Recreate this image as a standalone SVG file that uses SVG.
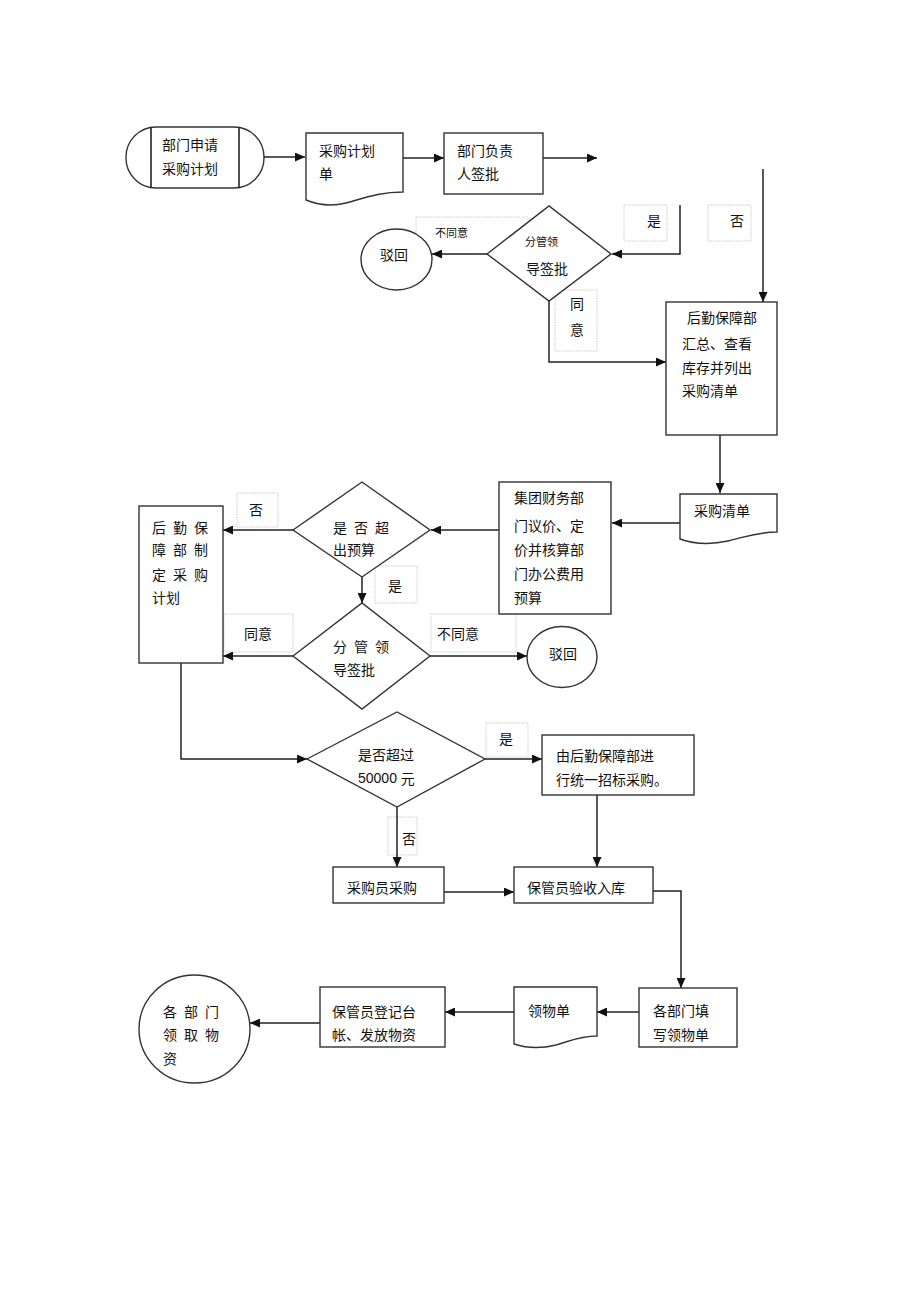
<svg xmlns="http://www.w3.org/2000/svg" width="920" height="1303" viewBox="0 0 920 1303">
<defs>
<marker id="ah" markerWidth="11" markerHeight="9" refX="10" refY="4.5" orient="auto" markerUnits="userSpaceOnUse">
<path d="M0,0 L10,4.5 L0,9 Z" fill="#111"/>
</marker>
<style>
.s{fill:#fff;stroke:#333;stroke-width:1.4}
.c{fill:none;stroke:#222;stroke-width:1.5;marker-end:url(#ah)}
.lb{fill:none;stroke:#c8c8c8;stroke-width:0.9;stroke-dasharray:1.5 1}
text{font-family:"Noto Sans CJK SC","Noto Sans",sans-serif;font-size:14px;fill:#111;dominant-baseline:central}
.sm{font-size:11px}
.n{font-family:"Liberation Sans","Noto Sans CJK SC",sans-serif}
</style>
</defs>
<rect width="920" height="1303" fill="#fff"/>

<g id="labels">
<rect class="lb" x="416" y="217" width="112" height="37"/>
<text class="sm" x="435" y="232">不同意</text>
<rect class="lb" x="555" y="290" width="42" height="61"/>
<text x="570" y="303">同</text>
<text x="570" y="329">意</text>
<rect class="lb" x="624" y="205" width="43" height="36"/>
<text x="647" y="220">是</text>
<rect class="lb" x="708" y="205" width="43" height="36"/>
<text x="730" y="220">否</text>
<rect class="lb" x="237" y="493" width="41" height="34"/>
<text x="249" y="509">否</text>
<rect class="lb" x="375" y="566" width="42" height="37"/>
<text x="388" y="585">是</text>
<rect class="lb" x="224" y="614" width="69" height="38"/>
<text x="244" y="633">同意</text>
<rect class="lb" x="431" y="614" width="85" height="38"/>
<text x="437" y="633">不同意</text>
<rect class="lb" x="486" y="723" width="42" height="34"/>
<text x="499" y="738">是</text>
<rect class="lb" x="388" y="817" width="29" height="38"/>
<text x="402" y="838">否</text>
</g>

<g id="connectors">
<path class="c" d="M264,157 H305"/>
<path class="c" d="M403,158 H444"/>
<path class="c" d="M543,158 H597"/>
<path class="c" d="M763,169 V302"/>
<path class="c" d="M680,205 V254 H612"/>
<path class="c" d="M487,254 H432"/>
<path class="c" d="M549,301 V362 H666"/>
<path class="c" d="M720,435 V493"/>
<path class="c" d="M680,523 H612"/>
<path class="c" d="M499,530 H431"/>
<path class="c" d="M293,530 H223"/>
<path class="c" d="M362,577 V603"/>
<path class="c" d="M293,656 H223"/>
<path class="c" d="M430,656 H527"/>
<path class="c" d="M181,663 V759 H307"/>
<path class="c" d="M485,759 H542"/>
<path class="c" d="M397,807 V867"/>
<path class="c" d="M597,795 V867"/>
<path class="c" d="M444,892 H514"/>
<path class="c" d="M653,891 H681 V988"/>
<path class="c" d="M639,1012 H597"/>
<path class="c" d="M514,1012 H445"/>
<path class="c" d="M320,1023 H250"/>
</g>

<g id="n_start">
<rect class="s" x="126" y="127" width="138" height="61" rx="30" ry="30"/>
<line x1="151" y1="127" x2="151" y2="188" stroke="#222" stroke-width="1.6"/>
<line x1="239" y1="127" x2="239" y2="188" stroke="#222" stroke-width="1.6"/>
<text x="162" y="144">部门申请</text>
<text x="162" y="168">采购计划</text>
</g>

<g id="n_plan_doc">
<path class="s" d="M306,133 H403 V192 C378,192 362,199 346,203 C330,207 318,205 306,200 Z"/>
<text x="319" y="150">采购计划</text>
<text x="319" y="173">单</text>
</g>

<g id="n_dept_sign">
<rect class="s" x="444" y="133" width="99" height="61"/>
<text x="457" y="150">部门负责</text>
<text x="457" y="173">人签批</text>
</g>

<g id="n_leader1">
<polygon class="s" points="487,254 549,206 611,254 549,301"/>
<text class="sm" x="525" y="241">分管领</text>
<text x="526" y="268">导签批</text>
</g>

<g id="n_reject1">
<ellipse class="s" cx="396.5" cy="259.5" rx="35.5" ry="30.5"/>
<text x="380" y="254">驳回</text>
</g>

<g id="n_logistics_summary">
<rect class="s" x="666" y="302" width="111" height="133"/>
<text x="687" y="317">后勤保障部</text>
<text x="682" y="343">汇总、查看</text>
<text x="682" y="367">库存并列出</text>
<text x="682" y="390">采购清单</text>
</g>

<g id="n_list_doc">
<path class="s" d="M680,494 H777 V532 C757,532 745,537 728,541 C710,545 694,544 680,539 Z"/>
<text x="694" y="510">采购清单</text>
</g>

<g id="n_finance">
<rect class="s" x="499" y="482" width="112" height="132"/>
<text x="514" y="497">集团财务部</text>
<text x="514" y="525">门议价、定</text>
<text x="514" y="549">价并核算部</text>
<text x="514" y="573">门办公费用</text>
<text x="514" y="597">预算</text>
</g>

<g id="n_budget">
<polygon class="s" points="293,530 362,482 430,530 362,577"/>
<text x="333 347 354 368 375" y="527">是 否 超</text>
<text x="333" y="549">出预算</text>
</g>

<g id="n_make_plan">
<rect class="s" x="139" y="506" width="84" height="157"/>
<text x="152 166 173 187 194" y="527">后 勤 保</text>
<text x="152 166 173 187 194" y="549">障 部 制</text>
<text x="152 166 173 187 194" y="574">定 采 购</text>
<text x="152" y="597">计划</text>
</g>

<g id="n_leader2">
<polygon class="s" points="293,656 362,603 430,656 362,709"/>
<text x="333 347 354 368 375" y="646">分 管 领</text>
<text x="333" y="669">导签批</text>
</g>

<g id="n_reject2">
<ellipse class="s" cx="562" cy="657" rx="35" ry="30.5"/>
<text x="549" y="653">驳回</text>
</g>

<g id="n_over50k">
<polygon class="s" points="307,759 397,712 485,759 397,807"/>
<text x="358" y="754">是否超过</text>
<text x="358" y="778"><tspan class="n">50000 </tspan>元</text>
</g>

<g id="n_tender">
<rect class="s" x="542" y="735" width="152" height="60"/>
<text x="556" y="755">由后勤保障部进</text>
<text x="556" y="779">行统一招标采购。</text>
</g>

<g id="n_buyer">
<rect class="s" x="333" y="867" width="111" height="36"/>
<text x="347" y="887">采购员采购</text>
</g>

<g id="n_receive">
<rect class="s" x="514" y="867" width="139" height="36"/>
<text x="527" y="887">保管员验收入库</text>
</g>

<g id="n_fill_form">
<rect class="s" x="639" y="988" width="98" height="59"/>
<text x="653" y="1010">各部门填</text>
<text x="653" y="1034">写领物单</text>
</g>

<g id="n_form_doc">
<path class="s" d="M514,987 H597 V1036 C580,1036 570,1041 556,1045 C540,1049 526,1048 514,1044 Z"/>
<text x="528" y="1010">领物单</text>
</g>

<g id="n_register">
<rect class="s" x="320" y="987" width="125" height="60"/>
<text x="332" y="1011">保管员登记台</text>
<text x="332" y="1034">帐、发放物资</text>
</g>

<g id="n_collect">
<ellipse class="s" cx="194.5" cy="1029" rx="55.5" ry="54"/>
<text x="163 177 184 198 205" y="1011">各 部 门</text>
<text x="163 177 184 198 205" y="1034">领 取 物</text>
<text x="163" y="1058">资</text>
</g>
</svg>
